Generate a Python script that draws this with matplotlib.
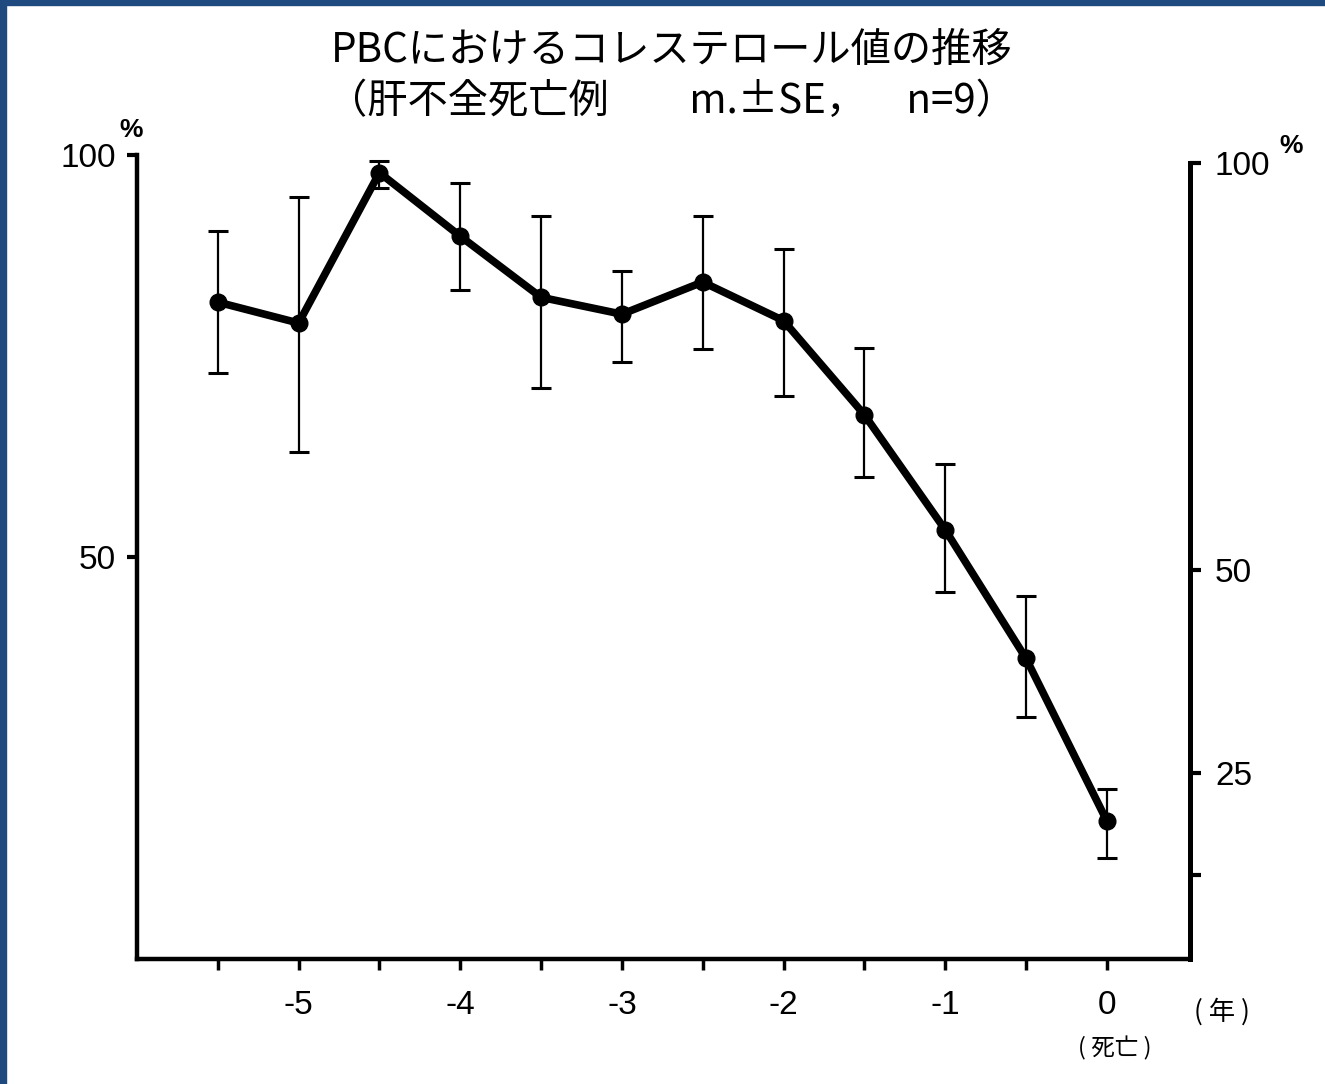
import matplotlib
matplotlib.use('Agg')
import matplotlib.pyplot as plt
import matplotlib.patches as mpatches
import numpy as np

# years before death, cholesterol (% of initial), upper/lower SE bounds
years = [-5.5, -5.0, -4.5, -4.0, -3.5, -3.0, -2.5, -2.0, -1.5, -1.0, -0.5, 0.0]
chol_mean = [81.7, 79.1, 97.8, 89.9, 82.3, 80.2, 84.2, 79.4, 67.7, 53.4, 37.4, 17.2]
chol_upper = [90.5, 94.8, 99.3, 96.5, 92.4, 85.6, 92.4, 88.3, 76.0, 61.6, 45.1, 21.1]
chol_lower = [72.9, 63.1, 95.9, 83.2, 71.0, 74.3, 75.9, 70.0, 59.9, 45.6, 30.1, 12.6]

x_ticks = [-5.5, -5.0, -4.5, -4.0, -3.5, -3.0, -2.5, -2.0, -1.5, -1.0, -0.5, 0.0]
x_ticklabels = ['', '-5', '', '-4', '', '-3', '', '-2', '', '-1', '', '0']
left_ticks = [50, 100]
right_ticks = [12.5, 25, 50, 100]
right_ticklabels = ['', '25', '50', '100']

title1 = 'PBCにおけるコレステロール値の推移'
title2 = '（肝不全死亡例　　m.±SE，　n=9）'

jp = ['Noto Sans CJK JP', 'DejaVu Sans']
num_font = 'Liberation Sans'

fig = plt.figure(figsize=(13.25, 10.84), dpi=100)
W, H = 1325, 1084

# blue frame of the slide
fig.patches.append(mpatches.Rectangle((0, 1 - 5 / H), 1, 5 / H, transform=fig.transFigure,
                                      color='#1f4a7f', zorder=0))
fig.patches.append(mpatches.Rectangle((0, 0), 6 / W, 1, transform=fig.transFigure,
                                      color='#1f4a7f', zorder=0))

ax = fig.add_axes([137 / W, (H - 959) / H, (1190 - 137) / W, (959 - 155) / H])
ax.patch.set_alpha(0)

mean = np.array(chol_mean)
yerr = [mean - np.array(chol_lower), np.array(chol_upper) - mean]
ax.errorbar(years, mean, yerr=yerr, fmt='none', ecolor='black', elinewidth=1.6,
            capsize=7, capthick=2.2, zorder=2)
ax.plot(years, mean, color='black', lw=5.5, marker='o', markersize=12, zorder=3)

ax.set_xlim(-6.0, 0.515)
ax.set_ylim(0, 100)

ax.spines['top'].set_visible(False)
ax.spines['right'].set_visible(False)
for s in ['left', 'bottom']:
    ax.spines[s].set_linewidth(3.2)

ax.set_xticks(x_ticks)
ax.set_xticklabels(x_ticklabels, fontname=num_font, fontsize=24)
ax.tick_params(axis='x', direction='out', length=8, width=2.5, pad=14)
ax.set_yticks(left_ticks)
ax.set_yticklabels([str(t) for t in left_ticks], fontname=num_font, fontsize=24)
ax.tick_params(axis='y', direction='out', length=7, width=3, pad=8)

# right axis, slightly offset scale as in the original figure
ax2 = ax.twinx()
ax2.set_ylim(2.2, 101.0)
for s in ['left', 'top', 'bottom']:
    ax2.spines[s].set_visible(False)
ax2.spines['right'].set_linewidth(3.6)
ax2.spines['right'].set_bounds(2.2, 100)
ax2.set_yticks(right_ticks)
ax2.set_yticklabels(right_ticklabels, fontname=num_font, fontsize=24)
ax2.tick_params(axis='y', direction='out', length=8, width=3, pad=10)

# percent marks
fig.text(119 / W, 1 - 130 / H, '%', fontname=num_font, fontsize=19, fontweight='bold',
         ha='left', va='center')
fig.text(1279 / W, 1 - 146 / H, '%', fontname=num_font, fontsize=19, fontweight='bold',
         ha='left', va='center')

# title
fig.text(0.507, 1 - 50 / H, title1, family=jp, fontsize=29, ha='center', va='center')
fig.text(0.507, 1 - 101 / H, title2, family=jp, fontsize=29, ha='center', va='center')

# axis unit labels
fig.text(1222 / W, 1 - 1012 / H, '( 年 )', family=jp, fontsize=19, ha='center', va='center')
fig.text(1115 / W, 1 - 1048 / H, '( 死亡 )', family=jp, fontsize=17, ha='center', va='center')

fig.savefig('out.png', dpi=100)
